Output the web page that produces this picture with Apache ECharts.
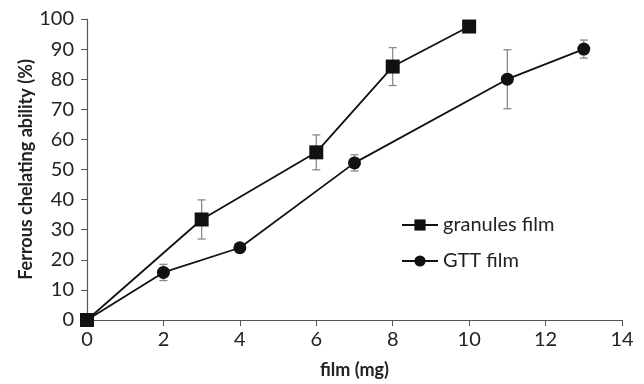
<!DOCTYPE html>
<html>
<head>
<meta charset="utf-8">
<script src="https://cdn.jsdelivr.net/npm/echarts@6/dist/echarts.min.js"></script>
<style>
  html, body { margin: 0; padding: 0; background: #fff; }
  #chart { width: 644px; height: 384px; }
</style>
</head>
<body>
<div id="chart"></div>
<script>
// granules film
var granulesX = [0, 3, 6, 8, 10]
var granulesY = [0, 33.4, 55.7, 84.2, 97.5]
var granulesErr = [0, 6.5, 5.8, 6.3, 0]
// GTT film
var gttX = [0, 2, 4, 7, 11, 13]
var gttY = [0, 15.8, 24, 52.2, 80, 90]
var gttErr = [0, 2.7, 0, 2.7, 9.8, 3]

var font = 'Lato'
var myChart = echarts.init(document.getElementById('chart'))

function pairs(xs, ys) {
  return xs.map(function (x, i) { return [x, ys[i]] })
}
function errData(xs, ys, es) {
  var out = []
  xs.forEach(function (x, i) {
    if (es[i] > 0) out.push([x, ys[i] - es[i], ys[i] + es[i]])
  })
  return out
}
// 误差线
function renderErr(params, api) {
  var x = api.value(0)
  var lo = api.coord([x, api.value(1)])
  var hi = api.coord([x, api.value(2)])
  var w = 4
  var style = { stroke: '#8a8a8a', lineWidth: 1.3 }
  return {
    type: 'group',
    children: [
      { type: 'line', shape: { x1: lo[0], y1: lo[1], x2: hi[0], y2: hi[1] }, style: style },
      { type: 'line', shape: { x1: lo[0] - w, y1: lo[1], x2: lo[0] + w, y2: lo[1] }, style: style },
      { type: 'line', shape: { x1: hi[0] - w, y1: hi[1], x2: hi[0] + w, y2: hi[1] }, style: style }
    ]
  }
}

var axisLine = { show: true, lineStyle: { color: '#555', width: 1.2 } }
var option = {
  animation: false,
  grid: { left: 87, right: 22, top: 19, bottom: 62 },
  legend: {
    orient: 'vertical',
    left: 396,
    top: 210,
    itemWidth: 36,
    itemHeight: 14,
    itemGap: 16,
    textStyle: { fontFamily: font, fontSize: 20, color: '#222' },
    data: ['granules film', 'GTT film']
  },
  xAxis: {
    type: 'value',
    min: 0,
    max: 14,
    interval: 2,
    name: 'film (mg)',
    nameLocation: 'middle',
    nameGap: 41,
    nameMoveOverlap: false,
    nameTextStyle: { fontFamily: font, fontSize: 18, fontWeight: 'bold', color: '#222' },
    axisLine: axisLine,
    axisTick: { show: true, inside: false, length: 6, lineStyle: { color: '#555' } },
    axisLabel: { fontFamily: font, fontSize: 20, color: '#222', margin: 10 },
    splitLine: { show: false }
  },
  yAxis: {
    type: 'value',
    min: 0,
    max: 100,
    interval: 10,
    name: 'Ferrous chelating ability (%)',
    nameLocation: 'middle',
    nameGap: 52,
    nameMoveOverlap: false,
    nameTextStyle: { fontFamily: font, fontSize: 18, fontWeight: 'bold', color: '#222' },
    axisLine: axisLine,
    axisTick: { show: true, inside: false, length: 6, lineStyle: { color: '#555' } },
    axisLabel: { fontFamily: font, fontSize: 20, color: '#222', margin: 13 },
    splitLine: { show: false }
  },
  series: [
    {
      type: 'custom',
      renderItem: renderErr,
      data: errData(granulesX, granulesY, granulesErr),
      encode: { x: 0, y: [1, 2] },
      z: 1,
      silent: true
    },
    {
      type: 'custom',
      renderItem: renderErr,
      data: errData(gttX, gttY, gttErr),
      encode: { x: 0, y: [1, 2] },
      z: 1,
      silent: true
    },
    {
      name: 'granules film',
      type: 'line',
      data: pairs(granulesX, granulesY),
      symbol: 'rect',
      symbolSize: 14,
      showSymbol: true,
      lineStyle: { color: '#111', width: 1.8 },
      itemStyle: { color: '#111' },
      z: 3
    },
    {
      name: 'GTT film',
      type: 'line',
      data: pairs(gttX, gttY),
      symbol: 'circle',
      symbolSize: 13,
      showSymbol: true,
      lineStyle: { color: '#111', width: 1.8 },
      itemStyle: { color: '#111' },
      z: 3
    }
  ]
}
myChart.setOption(option)
</script>
</body>
</html>
